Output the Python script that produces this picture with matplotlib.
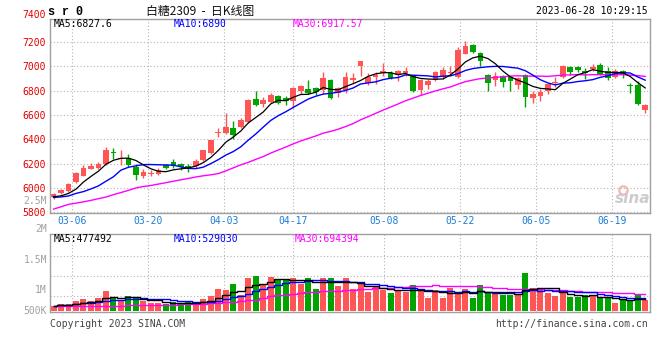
import matplotlib
matplotlib.use('Agg')
import matplotlib.pyplot as plt
import numpy as np
import pandas as pd

# ---------------- data ----------------
opens = [5922, 5955, 5975, 6045, 6100, 6158, 6162, 6195, 6298, 6235,
         6248, 6176, 6102, 6115, 6117, 6185, 6212, 6198, 6180, 6178,
         6228, 6285, 6448, 6450, 6492, 6500, 6545, 6732, 6688, 6705,
         6757, 6740, 6717, 6800, 6813, 6821, 6805, 6889, 6784, 6803,
         6889, 7000, 6865, 6916, 6943, 6949, 6932, 6946, 6924, 6803,
         6849, 6889, 6911, 6943, 6916, 7103, 7177, 7109, 6932, 6891,
         6918, 6910, 6845, 6932, 6739, 6752, 6801, 6859, 6910, 6992,
         6995, 6959, 6978, 7014, 6965, 6910, 6965, 6850, 6850, 6640]
highs = [5955, 5988, 6038, 6135, 6190, 6208, 6217, 6340, 6326, 6315,
         6280, 6195, 6155, 6150, 6162, 6195, 6240, 6208, 6195, 6240,
         6315, 6398, 6490, 6620, 6552, 6572, 6732, 6797, 6746, 6781,
         6765, 6752, 6827, 6846, 6886, 6827, 6956, 6897, 6830, 6951,
         6943, 7042, 6943, 6951, 7024, 6965, 6973, 6997, 6932, 6892,
         6892, 6965, 6997, 7005, 7159, 7204, 7182, 7117, 6937, 6954,
         6932, 6918, 6913, 6940, 6801, 6810, 6864, 6910, 7014, 7005,
         7005, 6986, 7022, 7027, 6995, 6978, 6973, 6859, 6878, 6687]
lows = [5910, 5950, 5968, 6038, 6095, 6155, 6157, 6185, 6238, 6190,
        6175, 6068, 6085, 6095, 6108, 6155, 6168, 6145, 6132, 6168,
        6222, 6280, 6415, 6442, 6402, 6490, 6536, 6673, 6665, 6698,
        6690, 6680, 6657, 6773, 6773, 6765, 6773, 6730, 6749, 6781,
        6865, 6919, 6843, 6857, 6924, 6897, 6878, 6919, 6789, 6768,
        6811, 6881, 6897, 6919, 6905, 7100, 7109, 7000, 6796, 6837,
        6829, 6801, 6810, 6665, 6701, 6714, 6769, 6829, 6905, 6932,
        6954, 6897, 6965, 6932, 6891, 6905, 6905, 6777, 6682, 6619]
closes = [5950, 5982, 6030, 6120, 6162, 6180, 6198, 6312, 6284, 6245,
          6185, 6103, 6130, 6124, 6145, 6165, 6180, 6172, 6160, 6220,
          6310, 6393, 6458, 6498, 6434, 6555, 6727, 6680, 6725, 6768,
          6702, 6712, 6818, 6840, 6778, 6785, 6907, 6741, 6822, 6911,
          6903, 7040, 6911, 6924, 6960, 6903, 6960, 6960, 6795, 6884,
          6878, 6951, 6973, 6957, 7132, 7169, 7117, 7041, 6859, 6918,
          6869, 6878, 6905, 6747, 6774, 6788, 6856, 6875, 7005, 6951,
          6967, 6946, 6995, 6937, 6905, 6965, 6937, 6837, 6687, 6685]
volumes = [181, 278, 278, 389, 472, 389, 528, 806, 556, 431,
           597, 556, 389, 319, 319, 292, 347, 250, 375, 375,
           472, 597, 903, 861, 1097, 667, 1347, 1431, 1125, 1389,
           1264, 1319, 1347, 1125, 1347, 903, 1347, 1347, 1014, 1347,
           903, 1097, 778, 1014, 875, 736, 875, 764, 1056, 903,
           528, 847, 528, 958, 736, 903, 528, 1056, 736, 722,
           667, 667, 667, 1556, 931, 875, 722, 597, 778, 556,
           556, 639, 639, 556, 556, 333, 444, 444, 681, 458]   # thousand lots

# moving-average values before the window is full
ma5_head = [5928, 5935, 5955, 5990]
ma10_head = [5922, 5926, 5934, 5955, 5970, 5992, 6017, 6055, 6092]
ma30_head = [5826, 5845, 5865, 5875, 5886, 5898, 5912, 5925, 5945, 5962,
             5980, 6000, 6012, 6020, 6032, 6043, 6055, 6067, 6078, 6090,
             6100, 6108, 6118, 6140, 6165, 6190, 6210, 6235, 6258]
vma30_head = [180, 183, 186, 189, 192, 196, 200, 205, 210, 215,
              222, 228, 234, 240, 246, 252, 258, 264, 270, 280,
              292, 306, 322, 342, 366, 394, 428, 466, 520]

date_labels = ['03-06', '03-20', '04-03', '04-17', '05-08', '05-22', '06-05', '06-19']
date_index = [3, 13, 23, 32, 44, 54, 64, 74]
price_ticks = [5800, 6000, 6200, 6400, 6600, 6800, 7000, 7200]
top_label = '7400'

title = '白糖2309  -  日K线图'
symbol = 's r 0'
stamp = '2023-06-28 10:29:15'
ma_text = ['MA5:6827.6', 'MA10:6890', 'MA30:6917.57']
vma_text = ['MA5:477492', 'MA10:529030', 'MA30:694394']
vol_labels = ['2.5M', '2M', '1.5M', '1M', '500K']

# ---------------- derived series ----------------
close_s = pd.Series(closes, dtype=float)
def ma_with_head(series, n, head):
    m = series.rolling(n).mean().to_numpy()
    m[:len(head)] = head
    return m
ma5 = ma_with_head(close_s, 5, ma5_head)
ma10 = ma_with_head(close_s, 10, ma10_head)
ma30 = ma_with_head(close_s, 30, ma30_head)

vol = np.array(volumes, dtype=float) * 1000
vol_s = pd.Series(vol)
vma5 = vol_s.rolling(5, min_periods=1).mean().to_numpy()
vma10 = vol_s.rolling(10, min_periods=1).mean().to_numpy()
vma30 = ma_with_head(vol_s, 30, [v * 1000 for v in vma30_head])

n = len(closes)
x = np.arange(n)
o = np.array(opens, float); c = np.array(closes, float)
h = np.array(highs, float); l = np.array(lows, float)
up = c >= o
RED = '#FF5555'
GREEN = '#00A300'
cols = np.where(up, RED, GREEN)

# grid positions of the date lines (grid scale is slightly wider than candle slots)
grid_pos = np.array(date_index) * 1.0142 - 0.533

MONO = 'DejaVu Sans Mono'
FS = 7
GRID = dict(color='#b4b4b4', linestyle=(0, (1, 2)), linewidth=0.8)

W, H = 660, 360
fig = plt.figure(figsize=(6.6, 3.6), dpi=100)
fig.patch.set_facecolor('white')

def fx(px):
    return px / W
def fy(py):
    return 1 - py / H

# ---------------- price panel ----------------
ax = fig.add_axes([fx(50), fy(213), fx(600), (213 - 18.5) / H])
ax.set_xlim(-0.47, 79.64)
ax.set_ylim(5794, 7393)
for sp in ax.spines.values():
    sp.set_color('#a0a0a0'); sp.set_linewidth(1)
ax.set_yticks(price_ticks)
ax.set_yticklabels([str(t) for t in price_ticks], color='#E00000', fontsize=FS, family=MONO)
ax.set_xticks(grid_pos)
ax.set_xticklabels(date_labels, color='#1C7CD5', fontsize=FS, family=MONO)
ax.tick_params(length=0, pad=2)
ax.tick_params(axis='y', pad=3)
ax.grid(True, **GRID)
ax.set_axisbelow(True)

ax.vlines(x, l, h, colors=cols, linewidth=1)
body_bottom = np.minimum(o, c)
body_h = np.maximum(np.abs(c - o), 9)
ax.bar(x, body_h, bottom=body_bottom, width=0.76, color=cols, linewidth=0)

ax.plot(x, ma30, color='#FF00FF', lw=1)
ax.plot(x, ma10, color='#0000FF', lw=1)
ax.plot(x, ma5, color='black', lw=0.9)

# sina watermark
ax.text(1.0, 0.035, 'sina', transform=ax.transAxes, ha='right', va='bottom',
        fontsize=11, fontweight='bold', style='italic', color='#cccccc', family='DejaVu Sans')
ax.plot([0.955], [0.12], transform=ax.transAxes, marker='o', markersize=6,
        markerfacecolor='none', markeredgecolor='#f2b3b3', markeredgewidth=1.5)

# ---------------- volume panel ----------------
av = fig.add_axes([fx(50), fy(312), fx(600), 78 / H])
av.set_xlim(-0.47, 79.64)
av.set_ylim(-0.054e6, 3.196e6)
for sp in av.spines.values():
    sp.set_color('#a0a0a0'); sp.set_linewidth(1)
av.set_xticks(grid_pos)
av.set_xticklabels([])
av.set_yticks([0.633e6, 1.458e6, 2.29e6])
av.set_yticklabels([])
av.tick_params(length=0)
av.grid(True, **GRID)
av.set_axisbelow(True)
av.bar(x, vol, width=0.8, color=cols, linewidth=0)
av.plot(x, vma30, color='#FF00FF', lw=1, drawstyle='steps-mid')
av.plot(x, vma10, color='#0000FF', lw=1, drawstyle='steps-mid')
av.plot(x, vma5, color='black', lw=1, drawstyle='steps-mid')

# ---------------- texts ----------------
fig.text(fx(48), fy(12), symbol, fontsize=8.5, fontweight='bold', family='Liberation Mono', va='center')
fig.text(fx(200), fy(11), title, fontsize=8.6, family=['Noto Sans CJK SC', 'DejaVu Sans'],
         ha='center', va='center', color='#111111')
fig.text(fx(648), fy(11), stamp, fontsize=FS, family=MONO, ha='right', va='center')
fig.text(fx(46), fy(15), top_label, fontsize=FS, family=MONO, ha='right', va='center', color='#E00000')

for s, xp, col in zip(ma_text, [54, 174, 293], ['black', '#0000FF', '#FF00FF']):
    fig.text(fx(xp), fy(24), s, fontsize=FS, family=MONO, color=col, va='center')
for s, xp, col in zip(vma_text, [54, 174, 295], ['black', '#0000FF', '#FF00FF']):
    fig.text(fx(xp), fy(239), s, fontsize=FS, family=MONO, color=col, va='center')

for s, yp in zip(vol_labels, [201, 229, 260, 290, 311]):
    fig.text(fx(47), fy(yp), s, fontsize=FS, family=MONO, color='#a0a0a0', ha='right', va='center')

fig.text(fx(50), fy(324), 'Copyright 2023 SINA.COM', fontsize=FS, family=MONO, color='#444444', va='center')
fig.text(fx(648), fy(324), 'http://finance.sina.com.cn', fontsize=FS, family=MONO, color='#444444',
         ha='right', va='center')

fig.savefig('out.png', dpi=100, facecolor='white')
